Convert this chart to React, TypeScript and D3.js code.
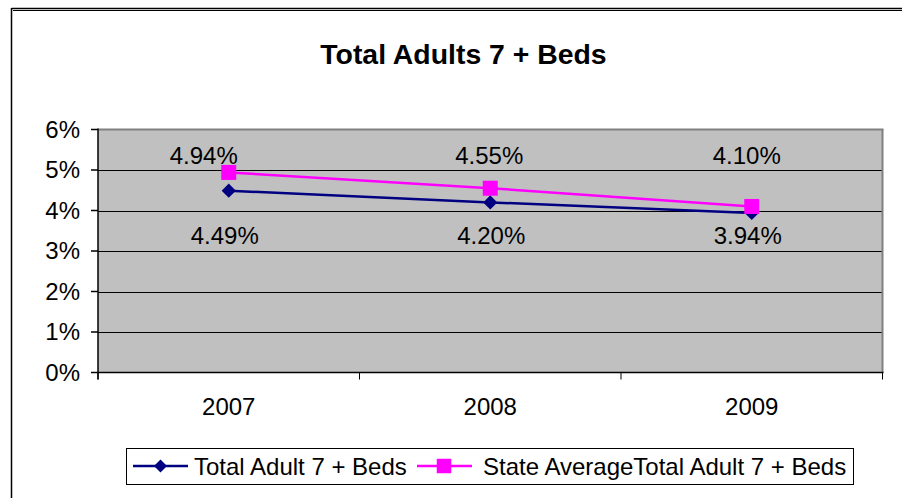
import { scaleBand, scaleLinear, line, symbol, symbolSquare } from 'd3'

const years = ['2007', '2008', '2009']
const totalAdult = [0.0449, 0.042, 0.0394]
const stateAverage = [0.0494, 0.0455, 0.041]
const yTicks = [0, 0.01, 0.02, 0.03, 0.04, 0.05, 0.06]

const seriesNames = ['Total Adult 7 + Beds', 'State AverageTotal Adult 7 + Beds']

const width = 902
const height = 498
const font = "'Liberation Sans', Arial, sans-serif"
const fs = 24

const plot = { left: 98, right: 882.5, top: 129.5, bottom: 372.5 }

const navy = '#000080'
const pink = '#FF00FF'

// label nudges (Excel placed these by hand)
const pinkLabelDx = [-25, -1, -5]
const navyLabelDx = [-4, 1, -4]

const pct = (v: number) => (v * 100).toFixed(2) + '%'

function App() {
  const x = scaleBand<string>().domain(years).range([plot.left, plot.right])
  const y = scaleLinear().domain([0, 0.06]).range([plot.bottom, plot.top])
  const cx = (d: string) => (x(d) as number) + x.bandwidth() / 2

  const path = line<number>()
    .x((_, i) => cx(years[i]))
    .y(d => y(d))

  // Excel diamond = square turned 45 degrees
  const diamond = symbol().type(symbolSquare).size(100)()
  const square = symbol().type(symbolSquare).size(225)()
  const diamondSmall = symbol().type(symbolSquare).size(85)()
  const squareSmall = symbol().type(symbolSquare).size(210)()

  const bounds = [...years.map(d => x(d) as number), plot.right]

  return (
    <svg width={width} height={height} style={{ position: 'absolute', left: 0, top: 0 }} fontFamily={font}>
      <rect width={width} height={height} fill="#fff" />
      {/* chart frame */}
      <line x1={11.5} x2={width} y1={8.5} y2={8.5} stroke="#000" strokeWidth={1.5} />
      <line x1={13} x2={width} y1={10.5} y2={10.5} stroke="#000" strokeWidth={1} />
      <line x1={11.5} x2={11.5} y1={8} y2={height} stroke="#000" strokeWidth={1.5} />

      <text x={463.5} y={64} textAnchor="middle" fontSize={28.4} fontWeight="bold">
        Total Adults 7 + Beds
      </text>

      {/* plot area */}
      <rect x={plot.left} y={plot.top} width={plot.right - plot.left} height={plot.bottom - plot.top} fill="#C0C0C0" />
      {yTicks.slice(1, -1).map(t => (
        <line key={t} x1={plot.left} x2={plot.right} y1={Math.round(y(t)) + 0.5} y2={Math.round(y(t)) + 0.5} stroke="#000" strokeWidth={1} />
      ))}
      <line x1={plot.left} x2={plot.right + 1} y1={plot.top} y2={plot.top} stroke="#808080" strokeWidth={2} />
      <line x1={plot.right} x2={plot.right} y1={plot.top} y2={plot.bottom} stroke="#808080" strokeWidth={2} />

      {/* y axis */}
      <line x1={plot.left} x2={plot.left} y1={plot.top - 1} y2={plot.bottom + 7} stroke="#000" strokeWidth={1.5} />
      {yTicks.map(t => (
        <g key={t} transform={`translate(0,${y(t)})`}>
          <line x1={91} x2={plot.left} stroke="#000" strokeWidth={1.5} />
          <text x={80} dy="0.35em" textAnchor="end" fontSize={fs}>{(t * 100).toFixed(0)}%</text>
        </g>
      ))}

      {/* x axis */}
      <line x1={plot.left} x2={plot.right + 1} y1={plot.bottom} y2={plot.bottom} stroke="#000" strokeWidth={1.5} />
      {bounds.map((b, i) => (
        <line key={i} x1={b} x2={b} y1={plot.bottom} y2={plot.bottom + 7} stroke="#000" strokeWidth={1} />
      ))}
      {years.map(d => (
        <text key={d} x={cx(d)} y={414.5} textAnchor="middle" fontSize={fs}>{d}</text>
      ))}

      {/* series */}
      <path d={path(totalAdult) as string} fill="none" stroke={navy} strokeWidth={2.5} />
      <path d={path(stateAverage) as string} fill="none" stroke={pink} strokeWidth={2.5} />
      {totalAdult.map((v, i) => (
        <path key={'n' + i} d={diamond as string} transform={`translate(${cx(years[i])},${y(v)}) rotate(45)`} fill={navy} />
      ))}
      {stateAverage.map((v, i) => (
        <path key={'p' + i} d={square as string} transform={`translate(${cx(years[i])},${y(v)})`} fill={pink} />
      ))}

      {/* data labels */}
      {stateAverage.map((v, i) => (
        <text key={'pl' + i} x={cx(years[i]) + pinkLabelDx[i]} y={163.5} textAnchor="middle" fontSize={fs}>{pct(v)}</text>
      ))}
      {totalAdult.map((v, i) => (
        <text key={'nl' + i} x={cx(years[i]) + navyLabelDx[i]} y={243.5} textAnchor="middle" fontSize={fs}>{pct(v)}</text>
      ))}

      {/* legend */}
      <rect x={126.5} y={448.5} width={727} height={36} fill="#fff" stroke="#000" strokeWidth={1} />
      <line x1={133} x2={188} y1={466} y2={466} stroke={navy} strokeWidth={2.5} />
      <path d={diamondSmall as string} transform="translate(160.5,466) rotate(45)" fill={navy} />
      <text x={194} y={475} fontSize={fs}>{seriesNames[0]}</text>
      <line x1={417} x2={472} y1={466} y2={466} stroke={pink} strokeWidth={2.5} />
      <path d={squareSmall as string} transform="translate(444,466)" fill={pink} />
      <text x={483} y={475} fontSize={fs}>{seriesNames[1]}</text>
    </svg>
  )
}

export default App
